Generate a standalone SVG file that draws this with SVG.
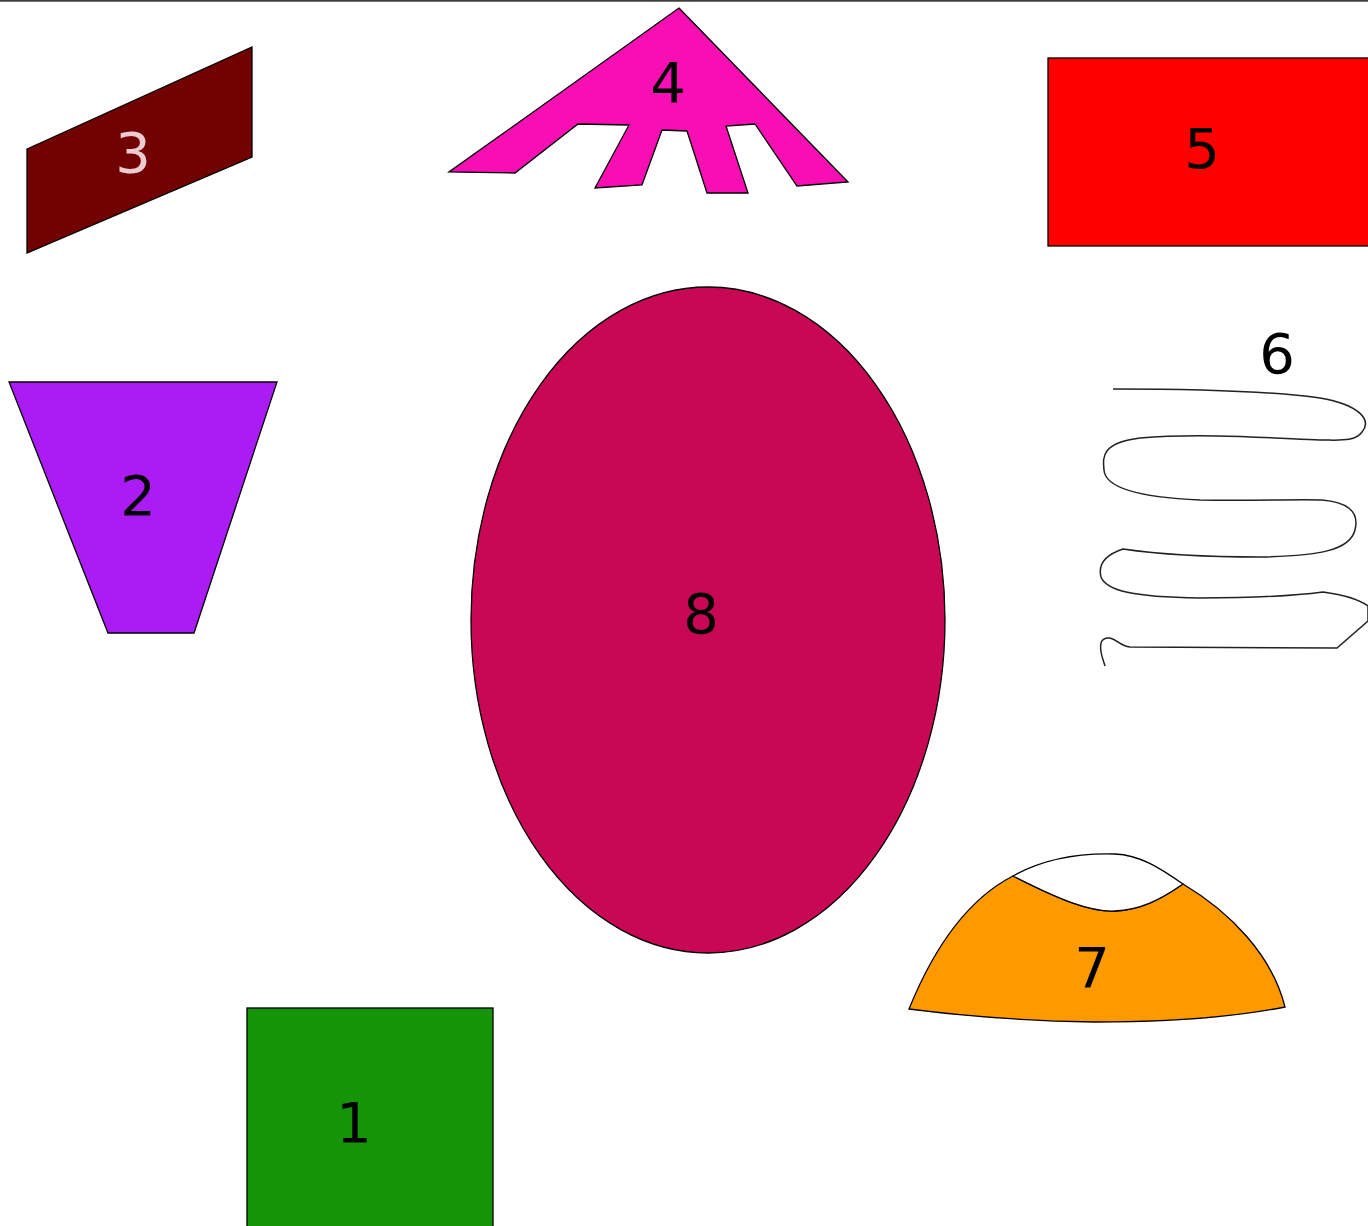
<svg xmlns="http://www.w3.org/2000/svg" width="1368" height="1226" viewBox="0 0 1368 1226">
<style>
.s{stroke:#000;stroke-width:1.3;stroke-linejoin:miter}
.t{font-family:"Comic Sans MS","DejaVu Sans",sans-serif;font-size:56px;text-anchor:middle;dominant-baseline:central;fill:#000}
</style>
<rect x="0" y="0" width="1368" height="1226" fill="#fff"/>
<line x1="0" y1="0.8" x2="1368" y2="0.8" stroke="#404040" stroke-width="1.8"/>
<g id="node3">
<polygon class="s" fill="#720202" points="27,149 252,47 252,157 27,253"/>
<text class="t" x="133" y="152" fill="#f0d0d4" style="fill:#ecccd0">3</text>
</g>
<g id="node4">
<polygon class="s" fill="#f70fb4" points="679,8 848,182 797,186 755,124 726,126 748,193 707,193 687,131 662,130 642,185 595,188 629,125 578,124 515,173 449,172"/>
<text class="t" x="668" y="82">4</text>
</g>
<g id="node5">
<rect class="s" fill="#fe0000" x="1048" y="58" width="322" height="188"/>
<text class="t" x="1202" y="148">5</text>
</g>
<g id="node2">
<polygon class="s" fill="#ab1cf5" points="9,382 277,382 194,633 108,633"/>
<text class="t" x="138" y="495">2</text>
</g>
<g id="node8">
<ellipse class="s" fill="#c80855" cx="708" cy="620" rx="237" ry="333"/>
<text class="t" x="701" y="613">8</text>
</g>
<g id="node6">
<text class="t" x="1277" y="353">6</text>
<path fill="none" stroke="#222" stroke-width="1.5" d="M1113,389 C1200,389 1270,391 1320,398 C1360,405 1372,420 1362,432 C1355,442 1340,440 1320,440 C1270,438 1200,433 1140,438 C1100,443 1103,458 1104,470 C1105,485 1130,497 1200,500 C1260,501 1300,499 1322,500 C1345,502 1360,510 1355,530 C1350,550 1320,556 1260,557 C1200,557 1150,553 1123,549 C1105,555 1098,565 1101,577 C1106,590 1130,597 1200,598 C1260,598 1300,595 1323,592 C1345,595 1360,600 1368,606 L1368,621 L1337,648 L1130,647 C1120,646 1118,640 1110,638 C1100,637 1100,645 1101,652 C1102,658 1104,662 1105,666"/>
</g>
<g id="node7">
<path class="s" fill="#ff9900" d="M909,1009 C935,945 970,898 1013,876 C1060,900 1090,912 1115,911 C1140,910 1160,900 1183,884 C1230,912 1272,955 1285,1007 C1230,1018 1160,1022 1095,1022 C1030,1021 970,1017 909,1009 Z"/>
<path class="s" fill="#fff" d="M1013,876 C1045,858 1080,853 1115,854 C1140,855 1160,868 1183,884 C1160,900 1140,910 1115,911 C1090,912 1060,900 1013,876 Z"/>
<text class="t" x="1092" y="967">7</text>
</g>
<g id="node1">
<rect class="s" fill="#139507" x="247" y="1008" width="246" height="230"/>
<text class="t" x="354" y="1122">1</text>
</g>
<g id="connectors"></g>
</svg>
